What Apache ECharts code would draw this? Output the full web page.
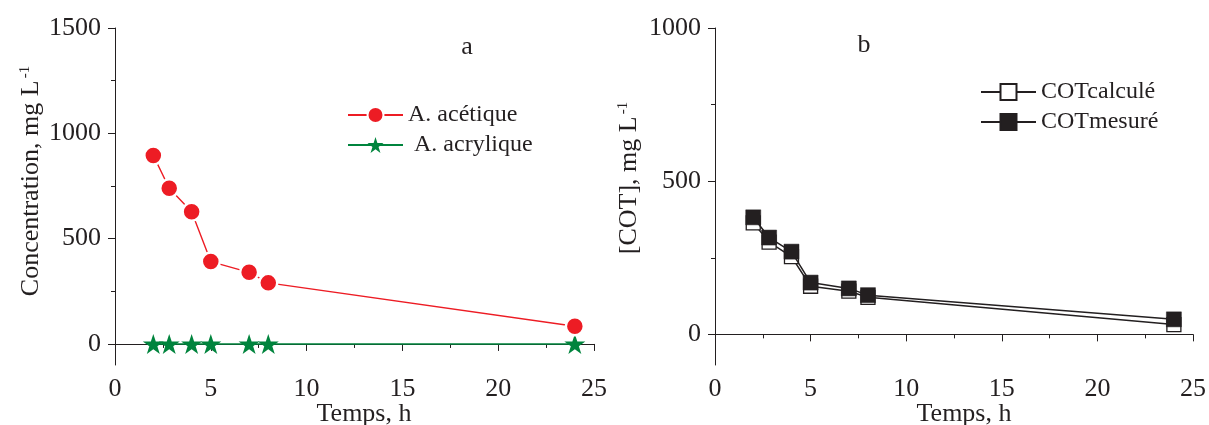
<!DOCTYPE html>
<html>
<head>
<meta charset="utf-8">
<script src="https://cdn.jsdelivr.net/npm/echarts@6/dist/echarts.min.js"></script>
<style>
html,body{margin:0;padding:0;background:#fff;}
#chart{width:1209px;height:425px;}
</style>
</head>
<body>
<div id="chart"></div>
<script>
// ---- data ----
const hours = [2, 2.83, 4, 5, 7, 8, 24];
const aceticAcid = [895, 739, 628, 391, 340, 290, 84];
const acrylicAcid = [0, 0, 0, 0, 0, 0, 0];
const cotCalcule = [364, 301, 254, 157, 141, 121, 32];
const cotMesure = [382, 316, 270, 169, 150, 128, 49];
const leftYTicks = [0, 500, 1000, 1500];
const leftYMinor = [250, 750, 1250];
const rightYTicks = [0, 500, 1000];
const rightYMinor = [250, 750];
const seriesNames = ['A. acétique', 'A. acrylique', 'COTcalculé', 'COTmesuré'];

const FONT = '"Liberation Serif", "Times New Roman", serif';
const INK = '#231f20';
const RED = '#ed1c24';
const GREEN = '#00843d';
const STAR = 'path://M50,0 L61.2,34.5 L97.6,34.5 L68.2,55.9 L79.4,90.5 L50,69.1 L20.6,90.5 L31.8,55.9 L2.4,34.5 L38.8,34.5 Z';

const zip = (xs, ys) => xs.map((x, i) => [x, ys[i]]);
const plain = v => String(v);

function xAxisOf(gi) {
  return {
    gridIndex: gi, type: 'value', min: 0, max: 25, interval: 5,
    axisLine: {lineStyle: {color: INK, width: 1}},
    axisTick: {length: 7, lineStyle: {color: INK}},
    minorTick: {show: true, splitNumber: 2, length: 4, lineStyle: {color: INK}},
    axisLabel: {fontFamily: FONT, fontSize: 26, color: INK, margin: 11, formatter: plain},
    splitLine: {show: false}
  };
}
function yMajor(gi, max, ticks) {
  return {
    gridIndex: gi, type: 'value', position: 'left', min: -100, max: max,
    axisLine: {show: true, lineStyle: {color: INK, width: 1}},
    axisTick: {show: true, length: 7, customValues: ticks, lineStyle: {color: INK}},
    axisLabel: {customValues: ticks, fontFamily: FONT, fontSize: 26, color: INK, margin: 14, formatter: plain},
    splitLine: {show: false}
  };
}
function yMinor(gi, max, ticks) {
  return {
    gridIndex: gi, type: 'value', position: 'left', min: -100, max: max,
    axisLine: {show: false},
    axisTick: {show: true, length: 4, customValues: ticks, lineStyle: {color: INK}},
    axisLabel: {show: false},
    splitLine: {show: false}
  };
}
function legendAt(name, left, top, pad) {
  return {
    data: [name], left: left, top: top, orient: 'vertical', padding: 0,
    itemWidth: 55, itemHeight: 20, selectedMode: false,
    textStyle: {fontFamily: FONT, fontSize: 24, color: INK, lineHeight: 26, padding: [0, 0, 0, pad || 0]}
  };
}
function gtext(txt, x, y, rot, size) {
  return {
    type: 'text', x: x, y: y, rotation: rot || 0,
    style: {
      text: txt, fill: INK, font: (size || 26) + 'px ' + FONT,
      textAlign: 'center', textVerticalAlign: 'middle',
      rich: {
        n: {fontFamily: FONT, fontSize: size || 26, fill: INK, color: INK},
        s: {fontFamily: FONT, fontSize: 15, fill: INK, color: INK, verticalAlign: 'top', padding: [0, 0, 12, 2]}
      }
    }
  };
}

const chart = echarts.init(document.getElementById('chart'), null, {renderer: 'canvas'});
chart.setOption({
  animation: false,
  backgroundColor: '#fff',
  grid: [
    {left: 115, top: 28, width: 479, height: 337},
    {left: 715, top: 28, width: 479, height: 337}
  ],
  xAxis: [xAxisOf(0), xAxisOf(1)],
  yAxis: [
    yMajor(0, 1500, leftYTicks), yMinor(0, 1500, leftYMinor),
    yMajor(1, 1000, rightYTicks), yMinor(1, 1000, rightYMinor)
  ],
  legend: [
    legendAt(seriesNames[0], 347, 102, 0),
    legendAt(seriesNames[1], 347, 132, 6),
    legendAt(seriesNames[2], 980, 79, 0),
    legendAt(seriesNames[3], 980, 109, 0)
  ],
  graphic: [
    gtext('a', 467, 47),
    gtext('b', 864, 45),
    gtext('Temps, h', 364, 414),
    gtext('Temps, h', 964, 414),
    gtext('{n|Concentration, mg L}{s|-1}', 31, 181, Math.PI / 2),
    gtext('{n|[COT], mg L}{s|-1}', 629, 178, Math.PI / 2)
  ],
  series: [
    {
      name: seriesNames[0], type: 'line', xAxisIndex: 0, yAxisIndex: 0,
      data: zip(hours, aceticAcid), symbol: 'circle', symbolSize: 18,
      lineStyle: {color: RED, width: 1.4},
      itemStyle: {color: RED, borderColor: '#fff', borderWidth: 2.5}, z: 3
    },
    {
      name: seriesNames[1], type: 'line', xAxisIndex: 0, yAxisIndex: 0,
      data: zip(hours, acrylicAcid), symbol: STAR, symbolSize: 21, symbolKeepAspect: true,
      lineStyle: {color: GREEN, width: 1.5},
      itemStyle: {color: GREEN, borderWidth: 0}, z: 2
    },
    {
      name: seriesNames[2], type: 'line', xAxisIndex: 1, yAxisIndex: 2,
      data: zip(hours, cotCalcule), symbol: 'rect', symbolSize: 14,
      lineStyle: {color: INK, width: 1.5},
      itemStyle: {color: '#fff', borderColor: INK, borderWidth: 1.3}, z: 2
    },
    {
      name: seriesNames[3], type: 'line', xAxisIndex: 1, yAxisIndex: 2,
      data: zip(hours, cotMesure), symbol: 'rect', symbolSize: 15,
      lineStyle: {color: INK, width: 1.5},
      itemStyle: {color: INK, borderColor: INK, borderWidth: 0.5}, z: 3
    }
  ]
});
</script>
</body>
</html>
